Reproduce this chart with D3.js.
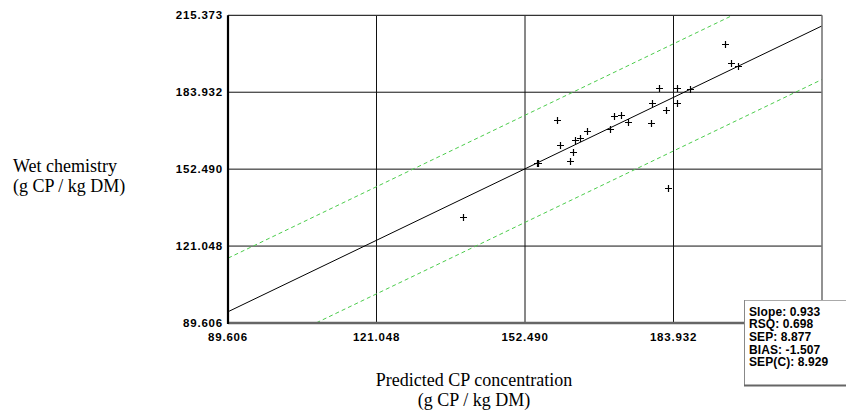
<!DOCTYPE html>
<html>
<head>
<meta charset="utf-8">
<script src="https://cdn.jsdelivr.net/npm/d3@7"></script>
<style>
  body { margin: 0; background: #fff; }
  svg { display: block; }
  .tick-label { font-family: "Liberation Sans", Arial, sans-serif; font-weight: bold; font-size: 11.5px; letter-spacing: 0.8px; fill: #000; }
  .title { font-family: "Liberation Serif", "Times New Roman", serif; font-size: 18px; fill: #000; }
  .stats { font-family: "Liberation Sans", Arial, sans-serif; font-weight: bold; font-size: 12px; letter-spacing: 0.1px; fill: #000; }
</style>
</head>
<body>
<script>
const w = 846;
const h = 412;

// axis range and ticks
const axisMin = 89.606;
const axisMax = 215.373;
const tickValues = [89.606, 121.048, 152.490, 183.932, 215.373];

// samples: predicted (x) vs wet chemistry (y)
const predicted = [194.84, 196.10, 197.65, 180.80, 184.61, 187.49, 179.32, 184.68, 182.28, 159.21, 171.34, 172.82,
  174.24, 179.11, 170.49, 165.62, 164.20, 163.01, 159.84, 162.72, 162.08, 155.09, 155.30, 182.70, 139.30];
const wetChem = [203.66, 196.06, 194.55, 185.86, 185.86, 185.28, 179.73, 179.73, 176.87, 172.62, 174.26, 174.54,
  171.81, 171.27, 168.70, 168.13, 165.27, 164.45, 162.29, 159.43, 155.88, 154.82, 155.00, 144.85, 133.01];

// fitted line and confidence band
const fitSlope = 0.929;
const fitIntercept = 10.96;
const bandOffsets = [21.9, -21.9];

// statistics box
const statLines = ["Slope: 0.933", "RSQ: 0.698", "SEP: 8.877", "BIAS: -1.507", "SEP(C): 8.929"];

const plotLeft = 228, plotRight = 822, plotTop = 15.3, plotBottom = 323;

const x = d3.scaleLinear().domain([axisMin, axisMax]).range([plotLeft, plotRight]);
const y = d3.scaleLinear().domain([axisMin, axisMax]).range([plotBottom, plotTop]);

const svg = d3.select("body").append("svg")
  .attr("width", w)
  .attr("height", h);

svg.append("clipPath").attr("id", "plot-clip")
  .append("rect")
  .attr("x", plotLeft).attr("y", plotTop)
  .attr("width", plotRight - plotLeft).attr("height", plotBottom - plotTop);

// grid
const inner = tickValues.slice(1, -1);
svg.append("g").selectAll("line")
  .data(inner).enter().append("line")
  .attr("x1", d => x(d)).attr("x2", d => x(d))
  .attr("y1", plotTop).attr("y2", plotBottom)
  .attr("stroke", "#111").attr("stroke-width", 1);
svg.append("g").selectAll("line")
  .data(inner).enter().append("line")
  .attr("y1", d => y(d)).attr("y2", d => y(d))
  .attr("x1", plotLeft).attr("x2", plotRight)
  .attr("stroke", "#111").attr("stroke-width", 1);

// regression + band lines
const plot = svg.append("g").attr("clip-path", "url(#plot-clip)");
const line = d3.line().x(d => x(d[0])).y(d => y(d[1]));
const ends = [axisMin - 20, axisMax + 20];

bandOffsets.forEach(off => {
  plot.append("path")
    .datum(ends.map(v => [v, fitSlope * v + fitIntercept + off]))
    .attr("d", line)
    .attr("fill", "none")
    .attr("stroke", "#4ccc4c")
    .attr("stroke-width", 1)
    .attr("stroke-dasharray", "4,3");
});

plot.append("path")
  .datum(ends.map(v => [v, fitSlope * v + fitIntercept]))
  .attr("d", line)
  .attr("fill", "none")
  .attr("stroke", "#000")
  .attr("stroke-width", 1);

// points as plus markers
const pts = predicted.map((p, i) => [p, wetChem[i]]);
const s = 3.5;
plot.append("g").selectAll("path")
  .data(pts).enter().append("path")
  .attr("d", d => {
    const px = Math.round(x(d[0])) + 0.5, py = Math.round(y(d[1])) + 0.5;
    return `M${px - s},${py}H${px + s}M${px},${py - s}V${py + s}`;
  })
  .attr("stroke", "#000")
  .attr("stroke-width", 1.2)
  .attr("fill", "none");

// frame
svg.append("line").attr("x1", plotLeft).attr("x2", plotRight).attr("y1", plotTop).attr("y2", plotTop)
  .attr("stroke", "#333").attr("stroke-width", 1.2);
svg.append("line").attr("x1", plotRight).attr("x2", plotRight).attr("y1", plotTop).attr("y2", plotBottom)
  .attr("stroke", "#777").attr("stroke-width", 1.6);
svg.append("line").attr("x1", plotLeft).attr("x2", plotRight).attr("y1", plotBottom).attr("y2", plotBottom)
  .attr("stroke", "#666").attr("stroke-width", 2.4);
svg.append("line").attr("x1", plotLeft).attr("x2", plotLeft).attr("y1", plotTop).attr("y2", plotBottom + 1)
  .attr("stroke", "#000").attr("stroke-width", 2.2);

// tick labels (last x label sits under the stats box, so it is left out)
svg.append("g").selectAll("text")
  .data(tickValues).enter().append("text")
  .attr("class", "tick-label")
  .attr("x", 223).attr("y", d => y(d))
  .attr("dy", "0.36em")
  .attr("text-anchor", "end")
  .text(d => d.toFixed(3));

svg.append("g").selectAll("text")
  .data(tickValues.slice(0, -1)).enter().append("text")
  .attr("class", "tick-label")
  .attr("x", d => x(d)).attr("y", 341)
  .attr("text-anchor", "middle")
  .text(d => d.toFixed(3));

// axis titles
svg.append("text").attr("class", "title").attr("x", 13).attr("y", 172).text("Wet chemistry");
svg.append("text").attr("class", "title").attr("x", 13).attr("y", 192).text("(g CP / kg DM)");
svg.append("text").attr("class", "title").attr("x", 474).attr("y", 386).attr("text-anchor", "middle").text("Predicted CP concentration");
svg.append("text").attr("class", "title").attr("x", 474).attr("y", 406).attr("text-anchor", "middle").text("(g CP / kg DM)");

// stats box
const box = svg.append("g");
box.append("rect")
  .attr("x", 744.5).attr("y", 300.5).attr("width", 103).attr("height", 85)
  .attr("fill", "#fff").attr("stroke", "#aaa").attr("stroke-width", 1);
box.append("line").attr("x1", 744.5).attr("x2", 744.5).attr("y1", 300).attr("y2", 386)
  .attr("stroke", "#888");
box.append("line").attr("x1", 744).attr("x2", 846).attr("y1", 385.5).attr("y2", 385.5)
  .attr("stroke", "#666").attr("stroke-width", 2);
box.selectAll("text")
  .data(statLines).enter().append("text")
  .attr("class", "stats")
  .attr("x", 749)
  .attr("y", (d, i) => 315.5 + i * 12.7)
  .text(d => d);
</script>
</body>
</html>
